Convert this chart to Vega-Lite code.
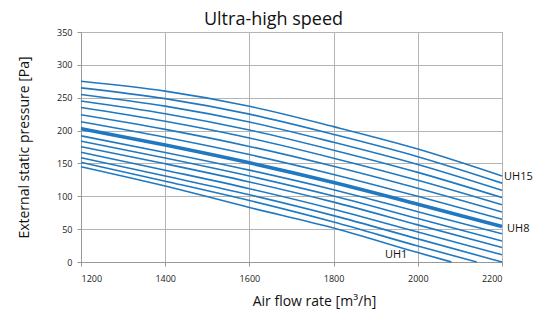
{
  "$schema": "https://vega.github.io/schema/vega-lite/v6.json",
  "width": 421,
  "height": 230,
  "autosize": {"type": "none"},
  "padding": {"left": 81, "top": 32, "right": 36, "bottom": 58},
  "background": "white",
  "title": {"text": "Ultra-high speed", "anchor": "middle", "frame": "group", "dx": -18, "dy": 21, "offset": 2, "baseline": "bottom", "fontSize": 18, "fontWeight": "normal", "font": "Open Sans", "color": "#111"},
  "config": {
    "view": {"stroke": "#b4b4b4"},
    "axis": {"labelFont": "Open Sans", "labelFontSize": 9, "labelColor": "#222", "titleFont": "Open Sans", "titleFontSize": 14, "titleFontWeight": "normal", "titleColor": "#111", "gridColor": "#b4b4b4", "gridOpacity": 1, "domainColor": "#999", "tickColor": "#999", "tickSize": 4, "labelOverlap": false, "format": "d"}
  },
  "datasets": {
    "curves": [
      {"c":"UH15","x":1200,"y":275},{"c":"UH15","x":1400,"y":260},{"c":"UH15","x":1600,"y":237},{"c":"UH15","x":1800,"y":206},{"c":"UH15","x":2000,"y":172},{"c":"UH15","x":2200,"y":131},
      {"c":"UH14","x":1200,"y":265},{"c":"UH14","x":1400,"y":248.6},{"c":"UH14","x":1600,"y":225},{"c":"UH14","x":1800,"y":194.1},{"c":"UH14","x":2000,"y":160.2},{"c":"UH14","x":2200,"y":120},
      {"c":"UH13","x":1200,"y":255},{"c":"UH13","x":1400,"y":237.2},{"c":"UH13","x":1600,"y":213},{"c":"UH13","x":1800,"y":182.1},{"c":"UH13","x":2000,"y":148.3},{"c":"UH13","x":2200,"y":109},
      {"c":"UH12","x":1200,"y":245},{"c":"UH12","x":1400,"y":225.7},{"c":"UH12","x":1600,"y":200.9},{"c":"UH12","x":1800,"y":170.2},{"c":"UH12","x":2000,"y":136.4},{"c":"UH12","x":2200,"y":98},
      {"c":"UH11","x":1200,"y":235},{"c":"UH11","x":1400,"y":214.1},{"c":"UH11","x":1600,"y":188.7},{"c":"UH11","x":1800,"y":158},{"c":"UH11","x":2000,"y":124.3},{"c":"UH11","x":2200,"y":87},
      {"c":"UH10","x":1200,"y":224},{"c":"UH10","x":1400,"y":201.8},{"c":"UH10","x":1600,"y":175.9},{"c":"UH10","x":1800,"y":145.6},{"c":"UH10","x":2000,"y":112.1},{"c":"UH10","x":2200,"y":76},
      {"c":"UH9","x":1200,"y":213.5},{"c":"UH9","x":1400,"y":189.9},{"c":"UH9","x":1600,"y":163.5},{"c":"UH9","x":1800,"y":133.3},{"c":"UH9","x":2000,"y":100},{"c":"UH9","x":2200,"y":65},
      {"c":"UH8","x":1200,"y":203},{"c":"UH8","x":1400,"y":178},{"c":"UH8","x":1600,"y":151},{"c":"UH8","x":1800,"y":121},{"c":"UH8","x":2000,"y":88},{"c":"UH8","x":2200,"y":54},
      {"c":"UH7","x":1200,"y":192},{"c":"UH7","x":1400,"y":166.7},{"c":"UH7","x":1600,"y":139.8},{"c":"UH7","x":1800,"y":110},{"c":"UH7","x":2000,"y":76.5},{"c":"UH7","x":2200,"y":43},
      {"c":"UH6","x":1200,"y":184},{"c":"UH6","x":1400,"y":158.2},{"c":"UH6","x":1600,"y":130.8},{"c":"UH6","x":1800,"y":100.4},{"c":"UH6","x":2000,"y":66.2},{"c":"UH6","x":2200,"y":32},
      {"c":"UH5","x":1200,"y":175.5},{"c":"UH5","x":1400,"y":149.4},{"c":"UH5","x":1600,"y":121.8},{"c":"UH5","x":1800,"y":91.1},{"c":"UH5","x":2000,"y":56.5},{"c":"UH5","x":2200,"y":22},
      {"c":"UH4","x":1200,"y":167},{"c":"UH4","x":1400,"y":139.7},{"c":"UH4","x":1600,"y":111.6},{"c":"UH4","x":1800,"y":80.4},{"c":"UH4","x":2000,"y":45.6},{"c":"UH4","x":2200,"y":11},
      {"c":"UH3","x":1200,"y":158.6},{"c":"UH3","x":1400,"y":130.8},{"c":"UH3","x":1600,"y":102.3},{"c":"UH3","x":1800,"y":70.6},{"c":"UH3","x":2000,"y":35.2},{"c":"UH3","x":2200,"y":0},
      {"c":"UH2","x":1200,"y":151.6},{"c":"UH2","x":1400,"y":123},{"c":"UH2","x":1600,"y":93.5},{"c":"UH2","x":1800,"y":60.8},{"c":"UH2","x":2000,"y":24.3},{"c":"UH2","x":2140,"y":0},
      {"c":"UH1","x":1200,"y":145},{"c":"UH1","x":1400,"y":115.6},{"c":"UH1","x":1600,"y":83},{"c":"UH1","x":1800,"y":51.8},{"c":"UH1","x":2000,"y":14.3},{"c":"UH1","x":2080,"y":0}
    ],
    "labels": [
      {"t":"UH15","x":2205,"y":129},
      {"t":"UH8","x":2212,"y":50},
      {"t":"UH1","x":1922,"y":10.5}
    ]
  },
  "encoding": {
    "x": {"field": "x", "type": "quantitative", "scale": {"domain": [1200, 2200], "nice": false, "zero": false},
      "axis": {"values": [1200, 1400, 1600, 1800, 2000, 2200], "title": "Air flow rate [m³/h]", "labelPadding": 8, "titleX": 233, "titleY": 43, "titleBaseline": "alphabetic", "titleAlign": "center"}},
    "y": {"field": "y", "type": "quantitative", "scale": {"domain": [0, 350], "nice": false},
      "axis": {"values": [0, 50, 100, 150, 200, 250, 300, 350], "title": "External static pressure [Pa]", "labelPadding": 5, "titleX": -57, "titleY": 115, "titleAngle": 270, "titleBaseline": "middle", "titleAlign": "center"}}
  },
  "layer": [
    {
      "data": {"name": "curves"},
      "transform": [{"filter": "datum.c !== 'UH8'"}],
      "mark": {"type": "line", "interpolate": "monotone", "color": "#2079c0", "strokeWidth": 1.6},
      "encoding": {
        "detail": {"field": "c", "type": "nominal"}
      }
    },
    {
      "data": {"name": "curves"},
      "transform": [{"filter": "datum.c === 'UH8'"}],
      "mark": {"type": "line", "interpolate": "monotone", "color": "#2079c0", "strokeWidth": 3.6},
      "encoding": {}
    },
    {
      "data": {"name": "labels"},
      "mark": {"type": "text", "font": "Open Sans", "fontSize": 11, "color": "#111", "baseline": "middle", "align": "left"},
      "encoding": {
        "text": {"field": "t"}
      }
    }
  ]
}
